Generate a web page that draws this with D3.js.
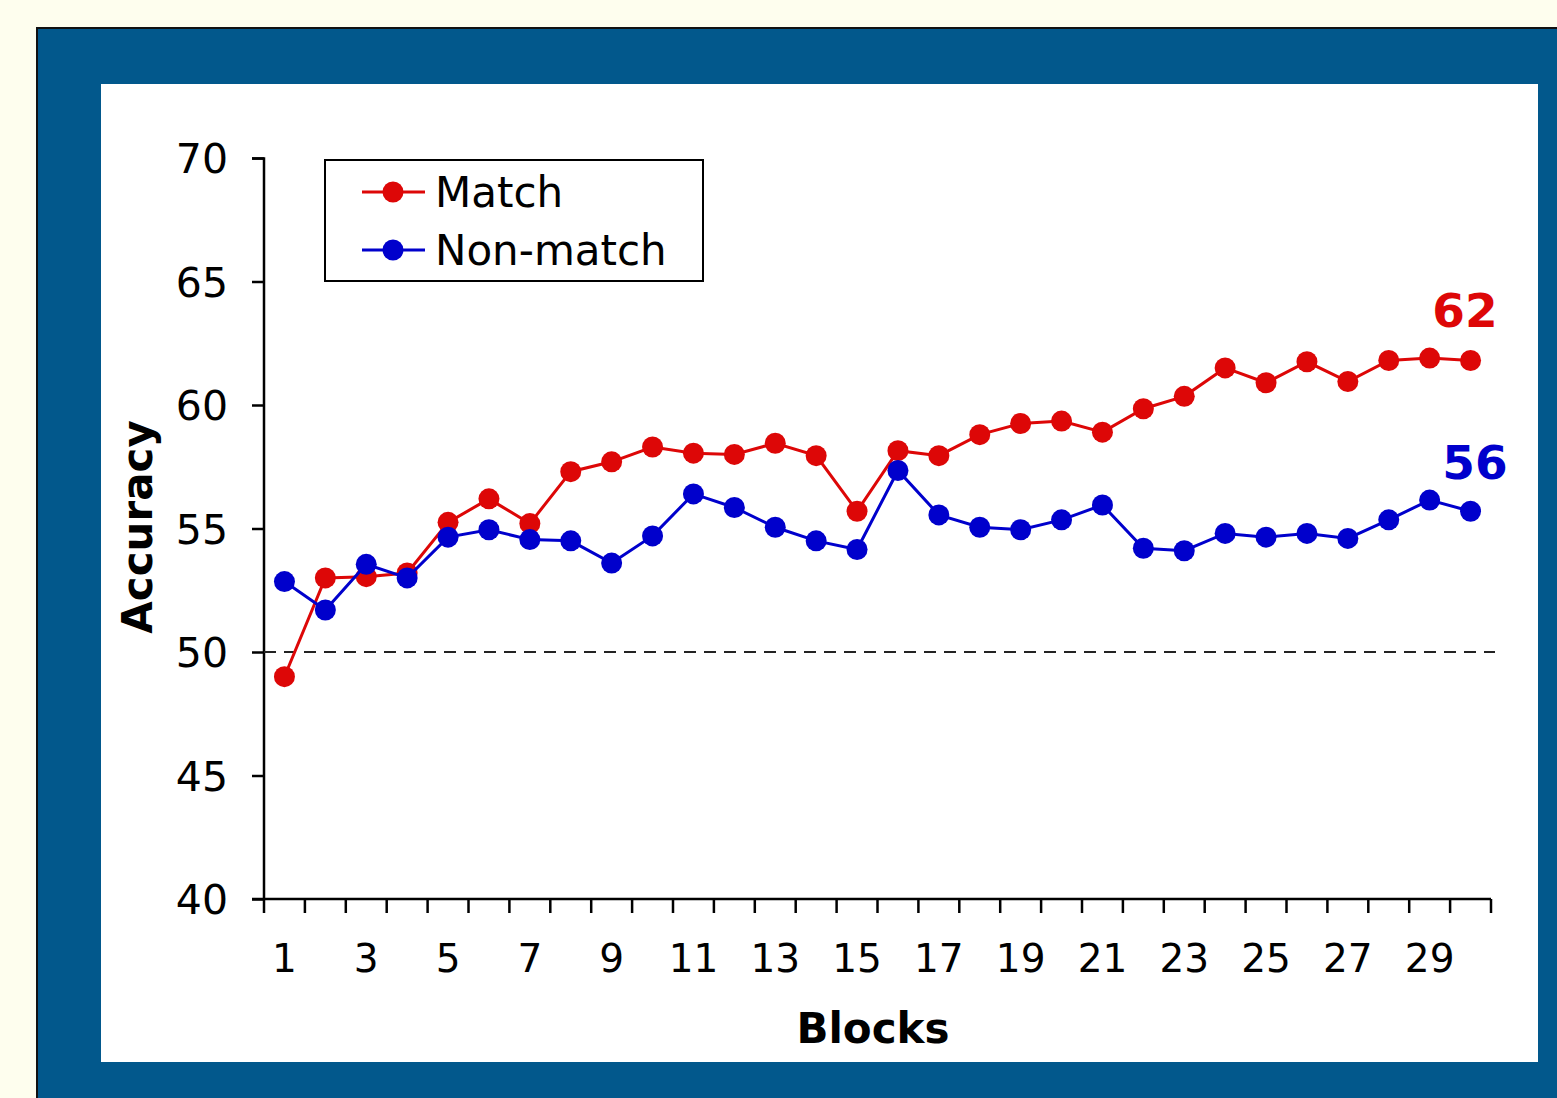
<!DOCTYPE html>
<meta charset="utf-8" />
<script src="https://d3js.org/d3.v7.min.js"></script>
<style>
  html, body { margin: 0; padding: 0; overflow: hidden; background: #fefeee; }
  text { font-family: "DejaVu Sans", Verdana, sans-serif; }
</style>
<div id="chart"></div>
<script>
  var width = 1557, height = 1098;

  var blocks = d3.range(1, 31);
  var match = [49.0, 53.0, 53.05, 53.2, 55.25, 56.2, 55.2, 57.3, 57.7, 58.3,
               58.05, 58.0, 58.45, 57.95, 55.7, 58.15, 57.95, 58.8, 59.25, 59.35,
               58.9, 59.85, 60.35, 61.5, 60.9, 61.75, 60.95, 61.8, 61.9, 61.8];
  var nonMatch = [52.85, 51.7, 53.55, 53.0, 54.65, 54.95, 54.55, 54.5, 53.6, 54.7,
                  56.4, 55.85, 55.05, 54.5, 54.15, 57.35, 55.55, 55.05, 54.95, 55.35,
                  55.95, 54.2, 54.1, 54.8, 54.65, 54.8, 54.6, 55.35, 56.15, 55.7];
  var yTicks = [40, 45, 50, 55, 60, 65, 70];
  var seriesNames = ["Match", "Non-match"];
  var endLabels = ["62", "56"];
  var colors = ["#dd0707", "#0000cc"];

  var svg = d3.select("#chart").append("svg")
    .attr("width", width).attr("height", height);

  // frame
  svg.append("rect").attr("x", 37).attr("y", 28).attr("width", 1530).attr("height", 1080)
    .attr("fill", "#02588c").attr("stroke", "#111").attr("stroke-width", 2);
  svg.append("rect").attr("x", 101).attr("y", 84).attr("width", 1437).attr("height", 978)
    .attr("fill", "#fff");

  var x = d3.scaleBand().domain(blocks).range([264, 1491]);
  var y = d3.scaleLinear().domain([40, 70]).range([899, 158]);
  var cx = function(d) { return x(d) + x.bandwidth() / 2; };

  // y axis
  var yAxis = svg.append("g").attr("transform", "translate(264,0)")
    .call(d3.axisLeft(y).tickValues(yTicks).tickSize(12).tickPadding(24));
  yAxis.select(".domain").attr("stroke-width", 2.5).attr("d", "M-12,158.5H0V899");
  yAxis.selectAll(".tick line").attr("stroke-width", 2.5);
  yAxis.selectAll(".tick text").attr("font-size", 41).attr("fill", "#000")
    .attr("font-family", "DejaVu Sans, Verdana, sans-serif").attr("dy", "0.36em");

  // x axis: ticks between bands
  var xg = svg.append("g").attr("transform", "translate(0,899)");
  xg.append("line").attr("x1", 252).attr("x2", 1491).attr("stroke", "#000").attr("stroke-width", 2.5);
  xg.selectAll(".xt").data(blocks.concat([31])).enter().append("line")
    .attr("x1", function(d) { return d <= 30 ? x(d) : 1491; })
    .attr("x2", function(d) { return d <= 30 ? x(d) : 1491; })
    .attr("y1", 0).attr("y2", 14).attr("stroke", "#000").attr("stroke-width", 2.5);
  xg.selectAll(".xl").data(blocks.filter(function(d) { return d % 2 === 1; })).enter().append("text")
    .attr("x", cx).attr("y", 73).attr("text-anchor", "middle")
    .attr("font-size", 39).attr("fill", "#000").text(function(d) { return d; });

  // chance line
  svg.append("line").attr("x1", 264).attr("x2", 1495).attr("y1", y(50)).attr("y2", y(50))
    .attr("stroke", "#222").attr("stroke-width", 2).attr("stroke-dasharray", "12,8");

  // series
  var line = d3.line().x(function(d, i) { return cx(blocks[i]); }).y(function(d) { return y(d); });
  [match, nonMatch].forEach(function(s, k) {
    var g = svg.append("g");
    g.append("path").datum(s).attr("d", line).attr("fill", "none")
      .attr("stroke", colors[k]).attr("stroke-width", 3);
    g.selectAll("circle").data(s).enter().append("circle")
      .attr("cx", function(d, i) { return cx(blocks[i]); })
      .attr("cy", function(d) { return y(d); })
      .attr("r", 10.5).attr("fill", colors[k]);
  });

  // end labels
  svg.selectAll(".endlab").data(endLabels).enter().append("text")
    .attr("x", function(d, i) { return i === 0 ? 1465 : 1475; })
    .attr("y", function(d, i) { return i === 0 ? 327 : 479; })
    .attr("text-anchor", "middle").attr("font-weight", "bold").attr("font-size", 47)
    .attr("fill", function(d, i) { return colors[i]; }).text(function(d) { return d; });

  // legend
  var lg = svg.append("g");
  lg.append("rect").attr("x", 325).attr("y", 160).attr("width", 378).attr("height", 121)
    .attr("fill", "#fff").attr("stroke", "#000").attr("stroke-width", 2);
  seriesNames.forEach(function(n, i) {
    var ly = 192 + i * 58;
    lg.append("line").attr("x1", 362).attr("x2", 425).attr("y1", ly).attr("y2", ly)
      .attr("stroke", colors[i]).attr("stroke-width", 3);
    lg.append("circle").attr("cx", 393).attr("cy", ly).attr("r", 10.5).attr("fill", colors[i]);
    lg.append("text").attr("x", 435).attr("y", ly + 15).attr("font-size", 42)
      .attr("fill", "#000").text(n);
  });

  // axis titles
  svg.append("text").attr("transform", "translate(152,527) rotate(-90)")
    .attr("text-anchor", "middle").attr("font-weight", "bold").attr("font-size", 42)
    .text("Accuracy");
  svg.append("text").attr("x", 873).attr("y", 1043).attr("text-anchor", "middle")
    .attr("font-weight", "bold").attr("font-size", 42).text("Blocks");
</script>
